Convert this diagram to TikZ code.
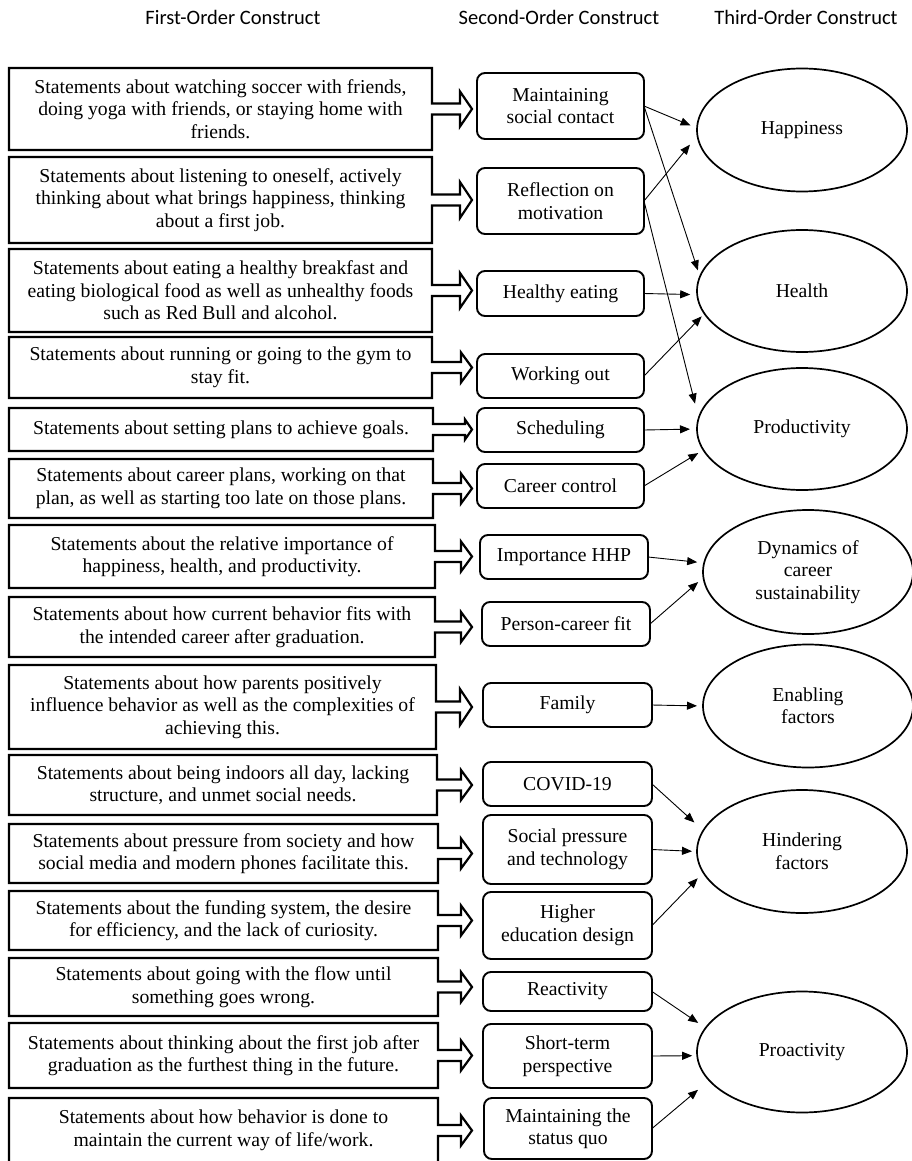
\documentclass[tikz,border=0pt]{standalone}
\usepackage{fontspec}
\setmainfont{Liberation Serif}
\newfontfamily\hdfont{Carlito}
\usetikzlibrary{shapes.geometric,calc,arrows.meta}
\tikzset{
  txt/.style={font=\fontsize{19.7}{22.5}\selectfont},
  fo/.style={txt, rectangle, inner sep=0pt, outer sep=0pt, align=center},
  fob/.style={line width=2.2pt, line join=miter},
  so/.style={txt, draw, rectangle, rounded corners=8pt, line width=1.9pt, inner sep=0pt, outer sep=0pt, align=center},
  el/.style={txt, draw, ellipse, line width=1.7pt, inner sep=0pt, outer sep=0pt, align=center},
  con/.style={-{Triangle[length=10pt,width=8pt]}, line width=0.9pt},
  hd/.style={font=\hdfont\fontsize{20.5}{24}\selectfont}
}
\newcommand\FOoutline[3]{%
  \draw[fob] (#1.north west) -- (#1.north east) -- ($(#1.east)+(0,-5.5)$)
    -- ($(tipx |- #1.east)+(-#3,-5.5)$) -- ($(tipx |- #1.east)+(-#3,-#2)$)
    -- (tipx |- #1.east) -- ($(tipx |- #1.east)+(-#3,#2)$)
    -- ($(tipx |- #1.east)+(-#3,5.5)$) -- ($(#1.east)+(0,5.5)$)
    -- (#1.south east) -- (#1.south west) -- cycle;}
\begin{document}
\begin{tikzpicture}[x=1pt,y=-1pt]
\useasboundingbox (0,0) rectangle (912,1161);
\coordinate (tipx) at (472,0);
% headers
\node[hd] (h1) at (233,17) {First-Order Construct};
\node[hd] (h2) at (559,17) {Second-Order Construct};
\node[hd] (h3) at (806,17) {Third-Order Construct};
% first-order boxes
\node[fo, minimum width=423pt, minimum height=82pt] (f1) at (220.5,109) {Statements about watching soccer with friends,\\doing yoga with friends, or staying home with\\friends.};
\node[fo, minimum width=423pt, minimum height=86pt] (f2) at (220.5,200) {Statements about listening to oneself, actively\\thinking about what brings happiness, thinking\\about a first job.};
\node[fo, minimum width=423pt, minimum height=83pt] (f3) at (220.5,290.5) {Statements about eating a healthy breakfast and\\eating biological food as well as unhealthy foods\\such as Red Bull and alcohol.};
\node[fo, minimum width=423pt, minimum height=61pt] (f4) at (220.5,367.5) {Statements about running or going to the gym to\\stay fit.};
\node[fo, minimum width=424pt, minimum height=43pt] (f5) at (221,429.5) {Statements about setting plans to achieve goals.};
\node[fo, minimum width=424pt, minimum height=59pt] (f6) at (221,488.5) {Statements about career plans, working on that\\plan, as well as starting too late on those plans.};
\node[fo, minimum width=426pt, minimum height=63pt] (f7) at (222,556.5) {Statements about the relative importance of\\happiness, health, and productivity.};
\node[fo, minimum width=426pt, minimum height=60pt] (f8) at (222,627) {Statements about how current behavior fits with\\the intended career after graduation.};
\node[fo, minimum width=427pt, minimum height=84pt] (f9) at (222.5,707) {Statements about how parents positively\\influence behavior as well as the complexities of\\achieving this.};
\node[fo, minimum width=428pt, minimum height=60pt] (f10) at (223,785) {Statements about being indoors all day, lacking\\structure, and unmet social needs.};
\node[fo, minimum width=429pt, minimum height=59pt] (f11) at (223.5,853.5) {Statements about pressure from society and how\\social media and modern phones facilitate this.};
\node[fo, minimum width=429pt, minimum height=59pt] (f12) at (223.5,920.5) {Statements about the funding system, the desire\\for efficiency, and the lack of curiosity.};
\node[fo, minimum width=429pt, minimum height=58pt] (f13) at (223.5,987) {Statements about going with the flow until\\something goes wrong.};
\node[fo, minimum width=429pt, minimum height=65pt] (f14) at (223.5,1055.5) {Statements about thinking about the first job after\\graduation as the furthest thing in the future.};
\node[fo, minimum width=429pt, minimum height=65pt] (f15) at (223.5,1130.5) {Statements about how behavior is done to\\maintain the current way of life/work.};
\FOoutline{f1}{17.5}{12}
\FOoutline{f2}{18}{12}
\FOoutline{f3}{17.5}{12}
\FOoutline{f4}{15}{11}
\FOoutline{f5}{10}{7}
\FOoutline{f6}{15}{11}
\FOoutline{f7}{15}{11}
\FOoutline{f8}{15}{11}
\FOoutline{f9}{18}{12}
\FOoutline{f10}{15}{11}
\FOoutline{f11}{15}{11}
\FOoutline{f12}{15}{11}
\FOoutline{f13}{15}{11}
\FOoutline{f14}{15}{11}
\FOoutline{f15}{15}{11}
% second-order boxes
\node[so, minimum width=167pt, minimum height=66pt] (s1) at (560.5,106) {Maintaining\\social contact};
\node[so, minimum width=167pt, minimum height=66pt] (s2) at (560.5,201) {Reflection on\\motivation};
\node[so, minimum width=167pt, minimum height=45pt] (s3) at (560.5,293.5) {Healthy eating};
\node[so, minimum width=167pt, minimum height=44pt] (s4) at (560.5,376) {Working out};
\node[so, minimum width=167pt, minimum height=44pt] (s5) at (560.5,430) {Scheduling};
\node[so, minimum width=167pt, minimum height=44pt] (s6) at (560.5,486) {Career control};
\node[so, minimum width=168pt, minimum height=44pt] (s7) at (564,557) {Importance HHP};
\node[so, minimum width=168pt, minimum height=44pt] (s8) at (566,624) {Person-career fit};
\node[so, minimum width=169pt, minimum height=44pt] (s9) at (567.5,705) {Family};
\node[so, minimum width=169pt, minimum height=44pt] (s10) at (567.5,784) {COVID-19};
\node[so, minimum width=169pt, minimum height=69pt] (s11) at (567.5,849.5) {Social pressure\\and technology};
\node[so, minimum width=169pt, minimum height=67pt] (s12) at (567.5,925.5) {Higher\\education design};
\node[so, minimum width=169pt, minimum height=39pt] (s13) at (567.5,991.5) {Reactivity};
\node[so, minimum width=169pt, minimum height=64pt] (s14) at (567.5,1056) {Short-term\\perspective};
\node[so, minimum width=168pt, minimum height=61pt] (s15) at (568,1128.5) {Maintaining the\\status quo};
% third-order ellipses
\node[el, minimum width=210pt, minimum height=123pt] (hap) at (802,130) {Happiness};
\node[el, minimum width=210pt, minimum height=122pt] (hea) at (802,291) {Health};
\node[el, minimum width=210pt, minimum height=122pt] (pro) at (802,429) {Productivity};
\node[el, minimum width=210pt, minimum height=124pt] (dyn) at (808,572) {Dynamics of\\career\\sustainability};
\node[el, minimum width=210pt, minimum height=123pt] (ena) at (808,706) {Enabling\\factors};
\node[el, minimum width=210pt, minimum height=123pt] (hin) at (802,851.5) {Hindering\\factors};
\node[el, minimum width=210pt, minimum height=121pt] (proa) at (802,1052) {Proactivity};
% connectors
\draw[con, shorten >=7pt] (s1.east) -- (hap.179);
\draw[con, shorten >=6.6pt] (s1.east) -- (hea.172);
\draw[con, shorten >=11.8pt] (s2.east) -- (hap.183);
\draw[con, shorten >=15pt] (s2.east) -- (pro.174);
\draw[con, shorten >=7pt] (s3.east) -- (hea.182);
\draw[con, shorten >=4pt] (s4.east) -- (hea.193);
\draw[con, shorten >=7pt] (s5.east) -- (pro.180);
\draw[con, shorten >=6pt] (s6.east) -- (pro.192);
\draw[con, shorten >=7pt] (s7.east) -- (dyn.175.5);
\draw[con, shorten >=7pt] (s8.east) -- (dyn.183);
\draw[con, shorten >=6pt] (s9.east) -- (ena.180);
\draw[con, shorten >=12pt] (s10.east) -- (hin.168);
\draw[con, shorten >=5pt] (s11.east) -- (hin.180);
\draw[con, shorten >=8pt] (s12.east) -- (hin.192);
\draw[con, shorten >=9pt] (s13.east) -- (proa.166);
\draw[con, shorten >=5pt] (s14.east) -- (proa.182);
\draw[con, shorten >=14.7pt] (s15.east) -- (proa.197);
\end{tikzpicture}
\end{document}
